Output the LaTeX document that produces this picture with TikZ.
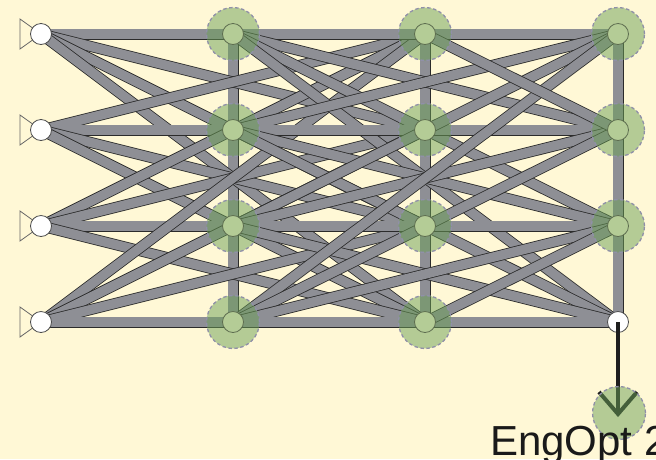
\documentclass[tikz,border=0pt]{standalone}
\usepackage{fontspec}
\setmainfont{Liberation Sans}
\usetikzlibrary{calc}
\definecolor{bgc}{HTML}{FFF8D6}
\definecolor{bandgray}{HTML}{8E8F95}
\definecolor{banddark}{HTML}{2B2B2B}
\definecolor{greenin}{HTML}{B4CC96}
\definecolor{greenline}{HTML}{5E6E50}
\definecolor{halofill}{HTML}{6BA056}
\definecolor{haloline}{HTML}{9090A8}
\definecolor{arrowc}{HTML}{1E1E1E}
\definecolor{txtc}{HTML}{1A1A1A}
\pgfdeclarelayer{back}
\pgfdeclarelayer{bands}
\pgfsetlayers{back,bands,main}
\begin{document}
\begin{tikzpicture}[x=1pt,y=-1pt,
  band/.style={draw=banddark, line width=0.8pt, double=bandgray, double distance=9.4pt},
  halo/.style={circle, minimum size=53pt, inner sep=0pt, fill=halofill, fill opacity=0.5,
     draw=haloline, draw opacity=1, line width=1.3pt, dash pattern=on 3.5pt off 2.5pt},
  gnode/.style={circle, minimum size=21pt, inner sep=0pt, fill=greenin, draw=greenline, line width=0.8pt},
  inode/.style={circle, minimum size=21pt, inner sep=0pt, fill=white, draw=black!70, line width=0.8pt},
  tri/.style={fill=bgc, draw=black!60, line width=0.8pt},
  arrowline/.style={draw=arrowc, line width=4.5pt},
  arrowhd/.style={draw=arrowc, line width=4pt, line cap=butt},
  lbl/.style={text=txtc, font=\fontsize{42}{42}\selectfont, inner sep=0pt, anchor=base west}
]
\useasboundingbox (0,0) rectangle (656,459);
\begin{pgfonlayer}{back}
\fill[bgc] (0,0) rectangle (656,459);
\end{pgfonlayer}

% halos
\foreach \c/\x in {1/233,2/425} \foreach \r in {0,...,3}
  \node[halo] (h\c\r) at (\x,{34+96*\r}) {};
\foreach \r in {0,1,2}
  \node[halo] (h3\r) at (618,{34+96*\r}) {};

% input triangles
\foreach \r in {0,...,3}
  \draw[tri] (20,{19+96*\r}) -- (20,{49+96*\r}) -- (41,{34+96*\r}) -- cycle;

% nodes
\foreach \r in {0,...,3}
  \node[inode] (n0\r) at (41,{34+96*\r}) {};
\foreach \c/\x in {1/233,2/425} \foreach \r in {0,...,3}
  \node[gnode] (n\c\r) at (\x,{34+96*\r}) {};
\foreach \r in {0,1,2}
  \node[gnode] (n3\r) at (618,{34+96*\r}) {};
\node[inode] (n33) at (618,322) {};

% bands
\begin{pgfonlayer}{bands}
\foreach \c in {1,2,3}
  \draw[band] (n\c0.center) -- (n\c3.center);
% input -> second hidden layer
\foreach \r in {0,...,3} \foreach \s in {0,...,3}
  \draw[band] (n0\r.center) -- (n2\s.center);
% first hidden layer -> output layer
\foreach \r in {0,...,3} \foreach \s in {0,...,3}
  \draw[band] (n1\r.center) -- (n3\s.center);
% extra direct links
\draw[band] (n20.center) -- (n31.center);
\draw[band] (n23.center) -- (n32.center);
\end{pgfonlayer}

% output arrow
\coordinate (tip) at (618,414);
\draw[arrowline] (n33.center) -- (tip);
\draw[arrowhd] ($(tip)+(-19,-22)$) -- (tip) -- ($(tip)+(19,-22)$);
\node[halo] (out) at (619,413) {};

\node[lbl] (label) at (490,455) {EngOpt 2};
\end{tikzpicture}
\end{document}
